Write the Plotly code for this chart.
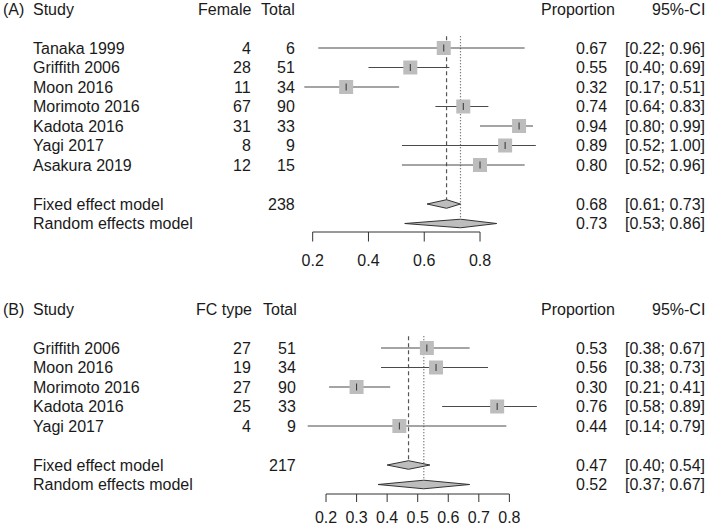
import plotly.graph_objects as go

# ---------------- data ----------------
studies_a = ["Tanaka 1999", "Griffith 2006", "Moon 2016", "Morimoto 2016",
             "Kadota 2016", "Yagi 2017", "Asakura 2019"]
female_a = [4, 28, 11, 67, 31, 8, 12]
total_a = [6, 51, 34, 90, 33, 9, 15]
prop_a = [0.67, 0.55, 0.32, 0.74, 0.94, 0.89, 0.80]
lower_a = [0.22, 0.40, 0.17, 0.64, 0.80, 0.52, 0.52]
upper_a = [0.96, 0.69, 0.51, 0.83, 0.99, 1.00, 0.96]
pooled_total_a = 238
fixed_a = [0.68, 0.61, 0.73]     # est, lower, upper
random_a = [0.73, 0.53, 0.86]
ticks_a = [0.2, 0.4, 0.6, 0.8]

studies_b = ["Griffith 2006", "Moon 2016", "Morimoto 2016", "Kadota 2016", "Yagi 2017"]
fc_b = [27, 19, 27, 25, 4]
total_b = [51, 34, 90, 33, 9]
prop_b = [0.53, 0.56, 0.30, 0.76, 0.44]
lower_b = [0.38, 0.38, 0.21, 0.58, 0.14]
upper_b = [0.67, 0.73, 0.41, 0.89, 0.79]
pooled_total_b = 217
fixed_b = [0.47, 0.40, 0.54]
random_b = [0.52, 0.37, 0.67]
ticks_b = [0.2, 0.3, 0.4, 0.5, 0.6, 0.7, 0.8]

# ---------------- style ----------------
W, H = 709, 530
ROW = 19.5
FONT = "Liberation Sans, Arial, sans-serif"
TXT = "#1a1a1a"
SQ = "#bdbdbd"
LINE = "#4a4a4a"
FS = 16

fig = go.Figure()
annotations = []


def ann(text, px, row, yref, anchor):
    annotations.append(dict(text=text, x=px / W, xref="paper", y=row, yref=yref,
                            xanchor=anchor, yanchor="middle", showarrow=False,
                            font=dict(family=FONT, size=FS, color=TXT)))


def panel(label, col_header, studies, events, totals, prop, lower, upper,
          pooled_total, fixed, random, ticks, xa, ya, yref,
          col1_hdr_x, col2_hdr_x, col1_x, col2_x, axis_row, tick_len_rows, lab_row):
    n = len(studies)
    rows = [2 + i for i in range(n)]
    r_fix = rows[-1] + 2
    r_ran = r_fix + 1
    dh = 0.22

    # header
    ann(label, 1, 0, yref, "left")
    ann("Study", 31, 0, yref, "left")
    ann(col_header, col1_hdr_x, 0, yref, "right")
    ann("Total", col2_hdr_x, 0, yref, "right")
    ann("Proportion", 617, 0, yref, "right")
    ann("95%-CI", 707, 0, yref, "right")

    for i in range(n):
        ann(studies[i], 31, rows[i], yref, "left")
        ann(str(events[i]), col1_x, rows[i], yref, "right")
        ann(str(totals[i]), col2_x, rows[i], yref, "right")
        ann(f"{prop[i]:.2f}", 609, rows[i], yref, "right")
        ann(f"[{lower[i]:.2f}; {upper[i]:.2f}]", 707, rows[i], yref, "right")

    ann("Fixed effect model", 31, r_fix, yref, "left")
    ann(str(pooled_total), col2_x, r_fix, yref, "right")
    ann(f"{fixed[0]:.2f}", 609, r_fix, yref, "right")
    ann(f"[{fixed[1]:.2f}; {fixed[2]:.2f}]", 707, r_fix, yref, "right")
    ann("Random effects model", 31, r_ran, yref, "left")
    ann(f"{random[0]:.2f}", 609, r_ran, yref, "right")
    ann(f"[{random[1]:.2f}; {random[2]:.2f}]", 707, r_ran, yref, "right")

    # reference lines
    fig.add_trace(go.Scatter(x=[fixed[0], fixed[0]], y=[1.4, r_fix - dh], mode="lines",
                             line=dict(color="#555555", width=1.2, dash="4px,3px"),
                             xaxis=xa, yaxis=ya, hoverinfo="skip"))
    fig.add_trace(go.Scatter(x=[random[0], random[0]], y=[1.4, r_ran - dh], mode="lines",
                             line=dict(color="#555555", width=1.2, dash="1px,2px"),
                             xaxis=xa, yaxis=ya, hoverinfo="skip"))

    # CI lines
    xs, ys = [], []
    for i in range(n):
        xs += [lower[i], upper[i], None]
        ys += [rows[i], rows[i], None]
    fig.add_trace(go.Scatter(x=xs, y=ys, mode="lines", line=dict(color=LINE, width=1.2),
                             xaxis=xa, yaxis=ya, hoverinfo="skip"))
    # squares
    fig.add_trace(go.Scatter(x=prop, y=rows, mode="markers",
                             marker=dict(symbol="square", size=14, color=SQ, line=dict(width=0)),
                             xaxis=xa, yaxis=ya, hoverinfo="skip"))
    # point ticks
    fig.add_trace(go.Scatter(x=prop, y=rows, mode="markers",
                             marker=dict(symbol="line-ns", size=5, line=dict(color="#333333", width=1)),
                             xaxis=xa, yaxis=ya, hoverinfo="skip"))

    # diamonds
    for est, lo, hi, r in [(fixed[0], fixed[1], fixed[2], r_fix),
                           (random[0], random[1], random[2], r_ran)]:
        fig.add_trace(go.Scatter(x=[lo, est, hi, est, lo], y=[r, r - dh, r, r + dh, r],
                                 mode="lines", fill="toself", fillcolor=SQ,
                                 line=dict(color="#333333", width=1),
                                 xaxis=xa, yaxis=ya, hoverinfo="skip"))

    # x axis
    ax_x = [ticks[0], ticks[-1], None]
    ax_y = [axis_row, axis_row, None]
    for t in ticks:
        ax_x += [t, t, None]
        ax_y += [axis_row, axis_row + tick_len_rows, None]
    fig.add_trace(go.Scatter(x=ax_x, y=ax_y, mode="lines", line=dict(color="#333333", width=1),
                             xaxis=xa, yaxis=ya, hoverinfo="skip"))
    fig.add_trace(go.Scatter(x=ticks, y=[lab_row] * len(ticks), mode="text",
                             text=[f"{t:.1f}" for t in ticks],
                             textfont=dict(family=FONT, size=FS, color=TXT),
                             textposition="middle center",
                             xaxis=xa, yaxis=ya, hoverinfo="skip"))


# top panel (row 0 at pixel 9)
y0a = 9.0
panel("(A)", "Female", studies_a, female_a, total_a, prop_a, lower_a, upper_a,
      pooled_total_a, fixed_a, random_a, ticks_a, "x", "y", "y",
      253, 297, 253, 297, (232 - y0a) / ROW, 9.5 / ROW, (262 - y0a) / ROW)

# bottom panel (row 0 at pixel 309)
y0b = 309.0
panel("(B)", "FC type", studies_b, fc_b, total_b, prop_b, lower_b, upper_b,
      pooled_total_b, fixed_b, random_b, ticks_b, "x2", "y2", "y2",
      254, 299, 253, 298, (494 - y0b) / ROW, 8 / ROW, (519 - y0b) / ROW)

# pixel-calibrated scales
x0a, sa = 256.9, 278.9
x0b, sb = 264.9, 305.6

fig.update_layout(
    width=W, height=H, margin=dict(l=0, r=0, t=0, b=0),
    paper_bgcolor="white", plot_bgcolor="white", showlegend=False,
    hovermode=False,
    xaxis=dict(domain=[0, 1], range=[-x0a / sa, (W - x0a) / sa], visible=False, fixedrange=True),
    xaxis2=dict(overlaying="x", range=[-x0b / sb, (W - x0b) / sb], visible=False, fixedrange=True),
    yaxis=dict(domain=[0, 1], range=[(H - y0a) / ROW, -y0a / ROW], visible=False, fixedrange=True),
    yaxis2=dict(overlaying="y", range=[(H - y0b) / ROW, -y0b / ROW], visible=False, fixedrange=True),
    annotations=annotations,
)

fig.write_html(
    "out.html",
    config={"displayModeBar": False, "staticPlot": True},
    post_script="document.body.style.margin='0';document.body.style.overflow='hidden';",
)
